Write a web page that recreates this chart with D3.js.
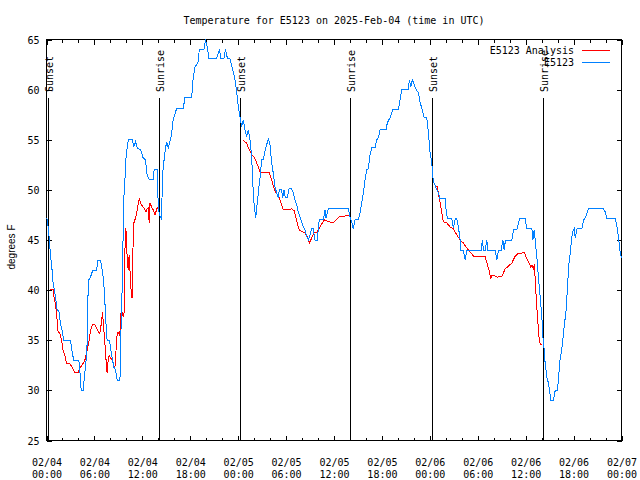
<!DOCTYPE html>
<html><head><meta charset="utf-8">
<script src="https://cdn.jsdelivr.net/npm/d3@7"></script>
<style>
body{margin:0;background:#fff}
svg{display:block;background:#fff}
text{font-family:"DejaVu Sans Mono",monospace;font-size:10px;fill:#000}
</style>
</head><body>
<svg id="c" width="640" height="480"></svg>
<script>
// ---- data (hours after 2025-02-04 00:00 UTC) ----
const obsHours=[0,0.08,0.29,0.5,0.7,0.83,1.13,1.33,1.54,1.75,1.95,2.17,3.01,3.21,3.42,4.05,4.17,4.34,4.59,4.76,4.96,5.09,5.18,5.26,5.51,5.8,6.27,6.43,6.77,6.97,7.09,7.27,7.39,7.59,7.89,8.02,8.22,8.43,8.65,8.85,9.19,9.27,9.35,9.52,9.6,9.69,9.81,9.9,10.02,10.19,10.31,10.73,10.94,11.15,11.35,11.78,12.1,12.41,12.53,12.86,13.36,13.48,13.86,13.98,14.13,14.41,14.52,14.82,15.04,15.24,15.45,15.66,15.79,15.87,16.29,17.12,17.33,18.17,18.37,18.58,19.0,19.13,19.71,19.92,20.13,20.35,21.3,21.65,21.84,22.22,22.41,22.66,22.97,23.26,23.6,23.81,24.01,24.22,24.44,24.64,24.85,25.06,25.26,25.48,25.69,25.81,25.98,26.19,26.39,26.6,26.73,26.94,27.14,27.35,27.57,27.77,27.98,28.19,28.39,28.61,28.82,29.02,29.15,29.45,29.57,29.74,29.9,30.15,30.36,30.7,30.9,31.11,31.33,31.53,31.74,31.95,32.16,32.37,32.58,32.78,32.99,33.21,33.41,33.62,33.91,34.04,34.16,34.66,34.87,35.0,35.29,37.79,38.01,38.22,38.42,38.63,39.05,39.26,39.47,39.67,39.89,40.1,40.3,40.51,40.73,41.14,41.35,41.55,41.77,42.52,42.68,43.02,43.36,44.06,44.27,44.49,45.31,45.44,45.61,45.81,46.03,46.28,46.57,46.78,46.99,47.28,47.62,47.82,48.03,48.25,48.37,48.53,48.78,49.07,49.29,49.91,50.04,50.2,50.75,50.95,51.17,51.38,51.58,51.79,51.88,52.2,52.42,52.63,54.42,54.59,54.71,54.93,55.14,55.26,56.18,56.39,56.59,56.93,57.14,57.31,57.47,58.27,58.47,58.9,59.22,59.94,60.15,60.78,60.9,61.07,61.19,61.4,61.6,61.82,62.03,62.16,62.32,62.44,62.66,62.86,63.16,63.48,63.7,63.95,64.11,64.24,64.45,64.61,64.86,65.04,65.16,65.29,65.36,65.58,65.7,65.87,66.08,66.2,66.42,67.04,67.24,67.46,67.67,67.87,69.75,69.96,70.18,71.22,71.43,71.63,71.84,72];
const obsTemps=[47.2,47.1,45.7,43.5,42,40.7,39.3,38,38,36.7,36,35,35,33.8,33,33,32,30,30,31.5,33,34.7,39,41,41.3,42,42,43,43,42,41.3,39.7,37.3,35,35,34.2,33.3,32.3,32,31,31,33,37,41.3,46,49.3,50.7,52.7,53.7,54.7,55,55,54.3,54.8,54.2,54,53.2,53,51.7,51,51,52,52,48.7,47.5,47.1,51.5,53.7,54.8,54.2,54.8,55.5,56.5,57,58.1,58.1,59.2,59.2,61.2,62.2,62.8,64,64,65,64.2,63.1,63.1,64,63.1,63.1,64,63.1,63.1,62.2,61,59.8,58.3,57.3,56.3,57,56,55.3,56,55,53.3,51,48.7,47.2,48.7,50.3,51.1,53,53,53.8,54.5,55.1,54.5,52.7,51.7,50.3,49.7,49.2,50,50,49.2,50,49.2,49.2,50.1,50.1,49.7,49,48.5,47.8,47.3,46.8,46.3,46,45.4,45,45.5,46.1,46.1,45,45,46.2,47,47,48,47.2,48.1,48.1,47.3,46.8,46.1,47,47,47.7,48.7,49.7,51,52,52.1,53.5,54.2,54.2,55,55.2,56,56,56.7,57.2,58,58,59,60,60,61,60.3,61,60.5,60,59.7,58.7,58.2,57.2,57.2,55.7,53.7,52.7,51.3,50.7,50.2,49.7,49.1,49.1,48,47.1,47.1,46.2,47.1,47.1,46.3,45,44,44,43,44,44,45,44,44,45,44,44,43,44,44,45,44,45,45,46,46,47.1,47.1,46.1,46.1,45,46,45,43.3,41.3,39.3,37.3,35.3,34,32.7,31.3,30.7,29,29,30,30,31,32.7,33.7,34.7,36.7,37.7,39.3,41,42.3,43.7,44.7,45.8,46.1,45.2,46.1,46.1,47,47.2,47.7,48.1,48.1,47.8,47.1,47.1,46.3,45.2,43.7,43.2];
const anaHours=[0.41,0.83,0.95,1.17,1.33,1.45,1.67,1.88,2.08,2.29,2.51,2.92,3.13,3.55,3.96,4.17,4.59,4.8,5.09,5.34,5.51,5.76,6.05,6.27,6.55,6.68,6.89,7.02,7.18,7.31,7.43,7.59,7.72,7.84,8.06,8.27,8.43,8.56,8.68,8.77,8.97,9.19,9.27,9.52,9.6,9.72,9.85,9.94,10.1,10.23,10.35,10.53,10.65,10.73,10.78,10.94,11.15,11.35,11.6,11.9,12.19,12.44,12.57,12.73,12.86,12.94,13.16,13.36,13.57,13.78,13.91,
 19,
 24.64,25.06,25.26,25.48,25.69,25.98,26.32,26.52,26.73,27.35,27.89,28.19,28.48,28.73,29.02,29.24,29.45,29.65,30.28,30.7,31.03,31.24,31.45,31.65,32.08,32.37,32.66,32.91,33.21,33.5,33.83,34.16,34.46,34.79,35.09,35.5,35.84,36.13,36.67,37.38,38.01,
 43,
 48.66,48.95,49.07,49.29,49.5,49.7,50.13,50.54,50.95,51.38,51.79,52.2,52.63,53.05,53.46,54.93,55.05,55.34,55.64,55.76,55.96,56.47,57.02,57.43,57.84,58.27,58.69,59.1,59.52,59.81,60.06,60.35,60.65,60.81,60.98,61.07,61.19,61.32,61.48,61.6,61.73,61.9,62.07];
const anaTemps=[40.1,40.1,39.3,38.3,37,35.8,35.7,35,34,33.5,32.7,32.7,32.4,31.8,31.8,32.2,32.7,33,34,35,36,36.6,36.6,36.2,35.8,35.7,36.8,37.8,36,34.7,33.3,31.7,33,33.5,33.2,33,32.5,32.2,33.5,35.3,35.8,35.5,37.7,37.8,37.3,37.8,45.3,46.2,43.3,42,43.5,40.8,39.3,39.3,43,46.7,47.2,48,49.1,48.5,48.2,47.8,48.1,48.2,46.7,48.7,48.3,48,47.5,48,48.3,
 null,
 54.9,54.7,54.2,53.9,53.5,53.3,52.7,52.3,51.8,51.7,51.7,51,50.2,49.7,49.5,49,48.5,48,48,48.1,47.9,47.2,46.5,46,45.8,45.7,45.3,44.7,45.2,45.7,45.7,46.2,46.6,47,46.9,46.8,46.7,46.9,47.3,47.4,47.4,
 null,
 50.3,50.3,49.7,48.7,47.7,46.8,46.7,46.3,46.1,45.5,45,44.7,44.2,43.8,43.4,43.4,43,42.2,41.2,41.5,41.5,41.3,41.4,42.1,42.4,42.7,43.4,43.7,43.7,43.8,43.3,42.8,42.3,42.5,42,42.6,41.2,39.3,37.3,36,34.8,34.6,34.6];
const eventHours=[0.25,14.11,24.22,38.05,48.32,62.11];
const eventLabels=["Sunset","Sunrise","Sunset","Sunrise","Sunset","Sunrise"];
const yTickValues=[25,30,35,40,45,50,55,60,65];
const seriesNames=["E5123 Analysis","E5123"];
const titleText="Temperature for E5123 on 2025-Feb-04 (time in UTC)";
const yLabelText="degrees F";

// ---- styles / layout ----
const colors=["#ff0000","#0080ff"];
const L=46.5,R=621.5,T=39.5,B=440.5;
const t0=Date.UTC(2025,1,4,0,0);
const toDate=h=>new Date(t0+h*3600e3);

const svg=d3.select("#c");
const x=d3.scaleUtc().domain([toDate(0),toDate(72)]).range([L,R]);
const y=d3.scaleLinear().domain([25,65]).range([B,T]);

const major=d3.utcHour.every(6).range(toDate(0),toDate(72.01));
const minor=d3.utcHour.every(2).range(toDate(0),toDate(72.01));

svg.append("g").attr("transform",`translate(0,${B})`)
  .call(d3.axisBottom(x).tickValues(minor).tickSize(-3).tickFormat(""));
svg.append("g").attr("transform",`translate(0,${T})`)
  .call(d3.axisTop(x).tickValues(minor).tickSize(-3).tickFormat(""));
const gx=svg.append("g").attr("transform",`translate(0,${B})`)
  .call(d3.axisBottom(x).tickValues(major).tickSize(-5));
svg.append("g").attr("transform",`translate(0,${T})`)
  .call(d3.axisTop(x).tickValues(major).tickSize(-5).tickFormat(""));
const gy=svg.append("g").attr("transform",`translate(${L},0)`)
  .call(d3.axisLeft(y).tickValues(yTickValues).tickSize(-5).tickPadding(7));
svg.append("g").attr("transform",`translate(${R},0)`)
  .call(d3.axisRight(y).tickValues(yTickValues).tickSize(-5).tickFormat(""));

svg.selectAll(".domain").remove();
svg.selectAll(".tick line").attr("stroke","#000").attr("shape-rendering","crispEdges");
svg.selectAll(".tick text").attr("font-family",null).attr("font-size",null);
gy.selectAll(".tick text").attr("dy","0.36em");

const fmtD=d3.utcFormat("%m/%d"), fmtT=d3.utcFormat("%H:%M");
gx.selectAll(".tick text").each(function(d){
  const t=d3.select(this); t.text(null).attr("y",25).attr("dy",null);
  t.append("tspan").attr("x",0).text(fmtD(d));
  t.append("tspan").attr("x",0).attr("dy",12).text(fmtT(d));
});

// border
svg.append("rect").attr("x",L).attr("y",T).attr("width",R-L).attr("height",B-T)
  .attr("fill","none").attr("stroke","#000").attr("shape-rendering","crispEdges");

// event lines
const ev=svg.append("g");
eventHours.forEach((h,i)=>{
  const ex=Math.round(x(toDate(h)))+0.5;
  ev.append("line").attr("x1",ex).attr("x2",ex).attr("y1",B).attr("y2",98)
    .attr("stroke","#000").attr("shape-rendering","crispEdges");
  ev.append("text").attr("transform",`translate(${ex+4.5},92) rotate(-90)`)
    .attr("text-anchor","start").text(eventLabels[i]);
});

// data lines
const anaData=anaHours.map((h,i)=>({t:toDate(h),v:anaTemps[i]}));
const obsData=obsHours.map((h,i)=>({t:toDate(h),v:obsTemps[i]}));
const line=d3.line().defined(d=>d.v!=null).x(d=>x(d.t)).y(d=>y(d.v));
svg.append("path").datum(anaData).attr("d",line).attr("fill","none")
  .attr("stroke",colors[0]).attr("stroke-width",1).attr("shape-rendering","crispEdges");
svg.append("path").datum(obsData).attr("d",line).attr("fill","none")
  .attr("stroke",colors[1]).attr("stroke-width",1).attr("shape-rendering","crispEdges");

// legend
seriesNames.forEach((n,i)=>{
  const ly=50.5+i*12;
  svg.append("text").attr("x",574).attr("y",ly+3.5).attr("text-anchor","end").text(n);
  svg.append("line").attr("x1",582).attr("x2",610).attr("y1",ly).attr("y2",ly)
    .attr("stroke",colors[i]).attr("shape-rendering","crispEdges");
});

// title & y label
svg.append("text").attr("x",(L+R)/2).attr("y",24).attr("text-anchor","middle").text(titleText);
svg.append("text").attr("transform",`translate(15,247) rotate(-90)`).attr("text-anchor","middle")
  .style("font-family","'Liberation Sans',Arial,sans-serif").style("font-size","10px").text(yLabelText);
</script>
</body></html>
